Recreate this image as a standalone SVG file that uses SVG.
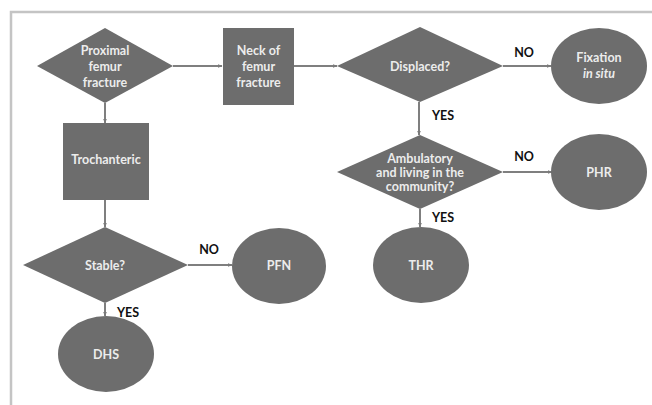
<svg xmlns="http://www.w3.org/2000/svg" width="652" height="405" viewBox="0 0 652 405">
<defs>
<marker id="ah" viewBox="0 0 10 10" refX="9" refY="5" markerWidth="5" markerHeight="5" orient="auto" markerUnits="userSpaceOnUse">
<path d="M0,1 L10,5 L0,9 Z" fill="#7a7a7a"/>
</marker>
<style>
.shape{fill:#6d6d6d;}
.t{font-family:Lato,"Open Sans","Liberation Sans",sans-serif;font-weight:bold;font-size:12.5px;fill:#ececec;text-anchor:middle;}
.lbl{font-family:Lato,"Open Sans","Liberation Sans",sans-serif;font-weight:bold;font-size:12.5px;fill:#111;}
.c{stroke:#7f7f7f;stroke-width:2;fill:none;marker-end:url(#ah);}
</style>
</defs>
<rect width="652" height="405" fill="#fff"/>
<path d="M11,405 V12 H652" fill="none" stroke="#c4c4c4" stroke-width="2.5"/>
<g id="connectors">
<line class="c" x1="173" y1="66" x2="222" y2="66"/>
<line class="c" x1="105" y1="103" x2="105" y2="123"/>
<line class="c" x1="294" y1="66" x2="337" y2="66"/>
<line class="c" x1="105" y1="200" x2="105" y2="227"/>
<line class="c" x1="188" y1="265" x2="232" y2="265"/>
<line class="c" x1="105" y1="303" x2="105" y2="316"/>
<line class="c" x1="503" y1="66" x2="551" y2="66"/>
<line class="c" x1="419" y1="102" x2="419" y2="135"/>
<line class="c" x1="503" y1="172" x2="552" y2="172"/>
<line class="c" x1="420" y1="209" x2="420" y2="227"/>
<text class="lbl" x="209" y="254" text-anchor="middle">NO</text>
<text class="lbl" x="117" y="317">YES</text>
<text class="lbl" x="524" y="57" text-anchor="middle">NO</text>
<text class="lbl" x="432" y="120">YES</text>
<text class="lbl" x="524" y="161" text-anchor="middle">NO</text>
<text class="lbl" x="432" y="222">YES</text>
</g>
<g id="proximal">
<polygon class="shape" points="37,66 105,28 173,66 105,103"/>
<text class="t" x="105" y="55">Proximal</text>
<text class="t" x="105" y="71">femur</text>
<text class="t" x="105" y="87">fracture</text>
</g>
<g id="neck">
<rect class="shape" x="223" y="28" width="71" height="77"/>
<text class="t" x="258.5" y="55">Neck of</text>
<text class="t" x="258.5" y="71">femur</text>
<text class="t" x="258.5" y="87">fracture</text>
</g>
<g id="trochanteric">
<rect class="shape" x="63" y="123" width="86" height="77"/>
<text class="t" x="106" y="164">Trochanteric</text>
</g>
<g id="stable">
<polygon class="shape" points="23,265 105,227 188,265 105,303"/>
<text class="t" x="105" y="270">Stable?</text>
</g>
<g id="pfn">
<ellipse class="shape" cx="279" cy="266" rx="47" ry="38"/>
<text class="t" x="279" y="270">PFN</text>
</g>
<g id="dhs">
<ellipse class="shape" cx="106" cy="354" rx="48" ry="38"/>
<text class="t" x="106" y="359">DHS</text>
</g>
<g id="displaced">
<polygon class="shape" points="337,66 420,27 503,66 420,102"/>
<text class="t" x="420" y="71">Displaced?</text>
</g>
<g id="fixation">
<ellipse class="shape" cx="599" cy="66" rx="48" ry="38"/>
<text class="t" x="599" y="62">Fixation</text>
<text class="t" x="599" y="78" font-style="italic">in situ</text>
</g>
<g id="ambulatory">
<polygon class="shape" points="337,172 420,135 503,172 420,209"/>
<text class="t" x="420" y="163">Ambulatory</text>
<text class="t" x="420" y="177">and living in the</text>
<text class="t" x="420" y="191">community?</text>
</g>
<g id="phr">
<ellipse class="shape" cx="599" cy="172" rx="48" ry="38"/>
<text class="t" x="599" y="177">PHR</text>
</g>
<g id="thr">
<ellipse class="shape" cx="421" cy="265" rx="48" ry="38"/>
<text class="t" x="421" y="270">THR</text>
</g>
</svg>
